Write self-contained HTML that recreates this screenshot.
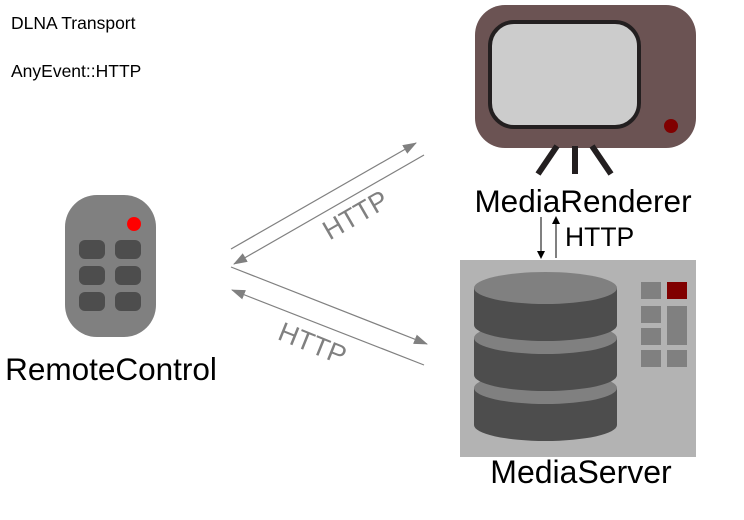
<!DOCTYPE html>
<html><head><style>body{margin:0;background:#fff}svg{display:block}</style></head><body>
<svg width="744" height="520" viewBox="0 0 744 520" xmlns="http://www.w3.org/2000/svg" font-family="Liberation Sans, sans-serif">
<defs>
<marker id="ag" markerWidth="14" markerHeight="10" refX="13" refY="5" orient="auto" markerUnits="userSpaceOnUse"><path d="M0,0 L14,5 L0,10 Z" fill="#808080"/></marker>
<marker id="ab" markerWidth="8" markerHeight="8" refX="7" refY="4" orient="auto" markerUnits="userSpaceOnUse"><path d="M0,0 L8,4 L0,8 Z" fill="#000"/></marker>
</defs>
<text x="11" y="29" font-size="17.5">DLNA Transport</text>
<text x="11" y="77" font-size="17.5">AnyEvent::HTTP</text>
<!-- TV -->
<rect x="475" y="5" width="221" height="143" rx="30" fill="#6b5353"/>
<rect x="490" y="22" width="149" height="105" rx="24" fill="#cccccc" stroke="#231f20" stroke-width="4"/>
<circle cx="671" cy="126" r="7" fill="#800000"/>
<g stroke="#231f20" stroke-width="6"><line x1="557" y1="146" x2="538" y2="174"/><line x1="575" y1="146" x2="575" y2="174"/><line x1="592" y1="146" x2="611" y2="174"/></g>
<text x="583" y="212" font-size="31.5" text-anchor="middle">MediaRenderer</text>
<line x1="541" y1="217" x2="541" y2="258" stroke="#000" stroke-width="1" marker-end="url(#ab)"/>
<line x1="556" y1="258" x2="556" y2="217" stroke="#000" stroke-width="1" marker-end="url(#ab)"/>
<text x="565" y="246" font-size="26.5">HTTP</text>
<!-- Server -->
<rect x="460" y="260" width="236" height="197" fill="#b3b3b3"/>
<g>
<path d="M474,388 v37 a71.5,16 0 0 0 143,0 v-37 Z" fill="#4d4d4d"/>
<ellipse cx="545.5" cy="388" rx="71.5" ry="16" fill="#808080"/>
<path d="M474,338 v37 a71.5,16 0 0 0 143,0 v-37 Z" fill="#4d4d4d"/>
<ellipse cx="545.5" cy="338" rx="71.5" ry="16" fill="#808080"/>
<path d="M474,288 v37 a71.5,16 0 0 0 143,0 v-37 Z" fill="#4d4d4d"/>
<ellipse cx="545.5" cy="288" rx="71.5" ry="16" fill="#808080"/>
</g>
<g fill="#808080">
<rect x="641" y="282" width="20" height="17"/><rect x="667" y="282" width="20" height="17" fill="#800000"/>
<rect x="641" y="306" width="20" height="17"/><rect x="667" y="306" width="20" height="39"/>
<rect x="641" y="328" width="20" height="17"/>
<rect x="641" y="350" width="20" height="17"/><rect x="667" y="350" width="20" height="17"/>
</g>
<text x="581" y="483" font-size="32" text-anchor="middle">MediaServer</text>
<!-- Remote -->
<rect x="65" y="195" width="91" height="142" rx="32" fill="#808080"/>
<circle cx="134" cy="224" r="7" fill="#ff0000"/>
<g fill="#4d4d4d">
<rect x="79" y="240" width="26" height="19" rx="6"/><rect x="115" y="240" width="26" height="19" rx="6"/>
<rect x="79" y="266" width="26" height="19" rx="6"/><rect x="115" y="266" width="26" height="19" rx="6"/>
<rect x="79" y="292" width="26" height="19" rx="6"/><rect x="115" y="292" width="26" height="19" rx="6"/>
</g>
<text x="111" y="380" font-size="31.5" text-anchor="middle">RemoteControl</text>
<!-- Arrows -->
<g stroke="#808080" stroke-width="1.2" fill="none">
<line x1="231" y1="249" x2="416" y2="143" marker-end="url(#ag)"/>
<line x1="424" y1="155" x2="234" y2="264" marker-end="url(#ag)"/>
<line x1="231" y1="267" x2="427" y2="344" marker-end="url(#ag)"/>
<line x1="424" y1="365" x2="232" y2="290" marker-end="url(#ag)"/>
</g>
<text x="0" y="0" font-size="27" fill="#808080" text-anchor="middle" transform="translate(360,223) rotate(-30)">HTTP</text>
<text x="0" y="0" font-size="27" fill="#808080" text-anchor="middle" transform="translate(309,352) rotate(22)">HTTP</text>
</svg>
</body></html>
